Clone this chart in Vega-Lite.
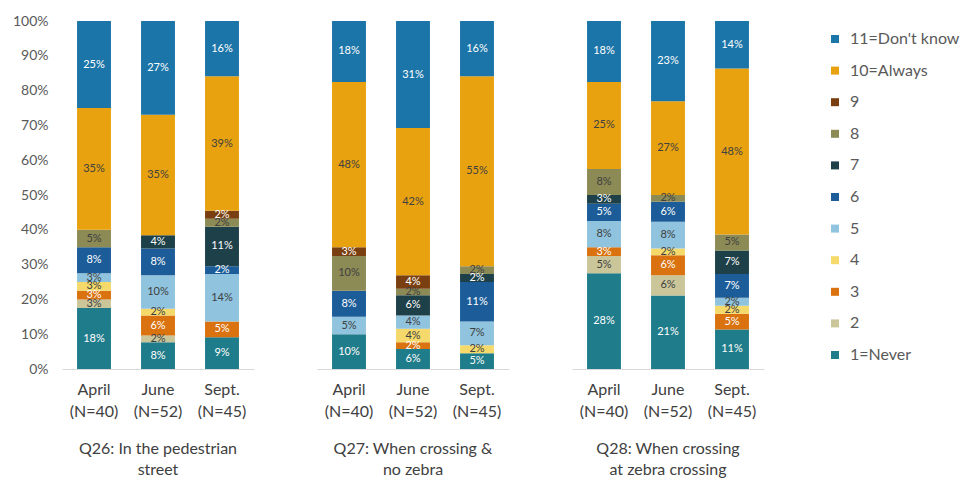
{
  "$schema": "https://vega.github.io/schema/vega-lite/v6.json",
  "background": "white",
  "padding": {"left": 12, "top": 14, "right": 0, "bottom": 0},
  "config": {
    "font": "Lato",
    "view": {"stroke": null},
    "axisX": {"labelAngle": 0, "domainColor": "#d9d9d9", "domainWidth": 1, "ticks": false, "labelFontSize": 16, "labelColor": "#404040", "labelPadding": 12, "labelLineHeight": 22, "labelExpr": "split(datum.label, '|')", "title": null, "grid": false},
    "axisY": {"domain": false, "ticks": false, "grid": false, "labelFontSize": 14, "labelColor": "#595959", "labelPadding": 14, "title": null, "labelOverlap": false},
    "header": {"labelOrient": "bottom", "labelFontSize": 16, "labelColor": "#404040", "labelPadding": 22, "labelLineHeight": 21, "labelExpr": "split(datum.value, '|')", "labelBaseline": "top"}
  },
  "data": {"values": [
    {"q": "Q26: In the pedestrian|street", "month": "April|(N=40)", "code": 1, "cat": "1=Never", "pct": 17.5, "label": "18%"},
    {"q": "Q26: In the pedestrian|street", "month": "April|(N=40)", "code": 2, "cat": "2", "pct": 2.5, "label": "3%"},
    {"q": "Q26: In the pedestrian|street", "month": "April|(N=40)", "code": 3, "cat": "3", "pct": 2.5, "label": "3%"},
    {"q": "Q26: In the pedestrian|street", "month": "April|(N=40)", "code": 4, "cat": "4", "pct": 2.5, "label": "3%"},
    {"q": "Q26: In the pedestrian|street", "month": "April|(N=40)", "code": 5, "cat": "5", "pct": 2.5, "label": "3%"},
    {"q": "Q26: In the pedestrian|street", "month": "April|(N=40)", "code": 6, "cat": "6", "pct": 7.5, "label": "8%"},
    {"q": "Q26: In the pedestrian|street", "month": "April|(N=40)", "code": 8, "cat": "8", "pct": 5, "label": "5%"},
    {"q": "Q26: In the pedestrian|street", "month": "April|(N=40)", "code": 10, "cat": "10=Always", "pct": 35, "label": "35%"},
    {"q": "Q26: In the pedestrian|street", "month": "April|(N=40)", "code": 11, "cat": "11=Don't know", "pct": 25, "label": "25%"},

    {"q": "Q26: In the pedestrian|street", "month": "June|(N=52)", "code": 1, "cat": "1=Never", "pct": 7.69, "label": "8%"},
    {"q": "Q26: In the pedestrian|street", "month": "June|(N=52)", "code": 2, "cat": "2", "pct": 1.92, "label": "2%"},
    {"q": "Q26: In the pedestrian|street", "month": "June|(N=52)", "code": 3, "cat": "3", "pct": 5.77, "label": "6%"},
    {"q": "Q26: In the pedestrian|street", "month": "June|(N=52)", "code": 4, "cat": "4", "pct": 1.92, "label": "2%"},
    {"q": "Q26: In the pedestrian|street", "month": "June|(N=52)", "code": 5, "cat": "5", "pct": 9.62, "label": "10%"},
    {"q": "Q26: In the pedestrian|street", "month": "June|(N=52)", "code": 6, "cat": "6", "pct": 7.69, "label": "8%"},
    {"q": "Q26: In the pedestrian|street", "month": "June|(N=52)", "code": 7, "cat": "7", "pct": 3.85, "label": "4%"},
    {"q": "Q26: In the pedestrian|street", "month": "June|(N=52)", "code": 10, "cat": "10=Always", "pct": 34.62, "label": "35%"},
    {"q": "Q26: In the pedestrian|street", "month": "June|(N=52)", "code": 11, "cat": "11=Don't know", "pct": 26.92, "label": "27%"},

    {"q": "Q26: In the pedestrian|street", "month": "Sept.|(N=45)", "code": 1, "cat": "1=Never", "pct": 9.09, "label": "9%"},
    {"q": "Q26: In the pedestrian|street", "month": "Sept.|(N=45)", "code": 3, "cat": "3", "pct": 4.55, "label": "5%"},
    {"q": "Q26: In the pedestrian|street", "month": "Sept.|(N=45)", "code": 5, "cat": "5", "pct": 13.64, "label": "14%"},
    {"q": "Q26: In the pedestrian|street", "month": "Sept.|(N=45)", "code": 6, "cat": "6", "pct": 2.27, "label": "2%"},
    {"q": "Q26: In the pedestrian|street", "month": "Sept.|(N=45)", "code": 7, "cat": "7", "pct": 11.36, "label": "11%"},
    {"q": "Q26: In the pedestrian|street", "month": "Sept.|(N=45)", "code": 8, "cat": "8", "pct": 2.27, "label": "2%"},
    {"q": "Q26: In the pedestrian|street", "month": "Sept.|(N=45)", "code": 9, "cat": "9", "pct": 2.27, "label": "2%"},
    {"q": "Q26: In the pedestrian|street", "month": "Sept.|(N=45)", "code": 10, "cat": "10=Always", "pct": 38.64, "label": "39%"},
    {"q": "Q26: In the pedestrian|street", "month": "Sept.|(N=45)", "code": 11, "cat": "11=Don't know", "pct": 15.91, "label": "16%"},

    {"q": "Q27: When crossing &|no zebra", "month": "April|(N=40)", "code": 1, "cat": "1=Never", "pct": 10, "label": "10%"},
    {"q": "Q27: When crossing &|no zebra", "month": "April|(N=40)", "code": 5, "cat": "5", "pct": 5, "label": "5%"},
    {"q": "Q27: When crossing &|no zebra", "month": "April|(N=40)", "code": 6, "cat": "6", "pct": 7.5, "label": "8%"},
    {"q": "Q27: When crossing &|no zebra", "month": "April|(N=40)", "code": 8, "cat": "8", "pct": 10, "label": "10%"},
    {"q": "Q27: When crossing &|no zebra", "month": "April|(N=40)", "code": 9, "cat": "9", "pct": 2.5, "label": "3%"},
    {"q": "Q27: When crossing &|no zebra", "month": "April|(N=40)", "code": 10, "cat": "10=Always", "pct": 47.5, "label": "48%"},
    {"q": "Q27: When crossing &|no zebra", "month": "April|(N=40)", "code": 11, "cat": "11=Don't know", "pct": 17.5, "label": "18%"},

    {"q": "Q27: When crossing &|no zebra", "month": "June|(N=52)", "code": 1, "cat": "1=Never", "pct": 5.77, "label": "6%"},
    {"q": "Q27: When crossing &|no zebra", "month": "June|(N=52)", "code": 3, "cat": "3", "pct": 1.92, "label": "2%"},
    {"q": "Q27: When crossing &|no zebra", "month": "June|(N=52)", "code": 4, "cat": "4", "pct": 3.85, "label": "4%"},
    {"q": "Q27: When crossing &|no zebra", "month": "June|(N=52)", "code": 5, "cat": "5", "pct": 3.85, "label": "4%"},
    {"q": "Q27: When crossing &|no zebra", "month": "June|(N=52)", "code": 7, "cat": "7", "pct": 5.77, "label": "6%"},
    {"q": "Q27: When crossing &|no zebra", "month": "June|(N=52)", "code": 8, "cat": "8", "pct": 1.92, "label": "2%"},
    {"q": "Q27: When crossing &|no zebra", "month": "June|(N=52)", "code": 9, "cat": "9", "pct": 3.85, "label": "4%"},
    {"q": "Q27: When crossing &|no zebra", "month": "June|(N=52)", "code": 10, "cat": "10=Always", "pct": 42.31, "label": "42%"},
    {"q": "Q27: When crossing &|no zebra", "month": "June|(N=52)", "code": 11, "cat": "11=Don't know", "pct": 30.77, "label": "31%"},

    {"q": "Q27: When crossing &|no zebra", "month": "Sept.|(N=45)", "code": 1, "cat": "1=Never", "pct": 4.55, "label": "5%"},
    {"q": "Q27: When crossing &|no zebra", "month": "Sept.|(N=45)", "code": 4, "cat": "4", "pct": 2.27, "label": "2%"},
    {"q": "Q27: When crossing &|no zebra", "month": "Sept.|(N=45)", "code": 5, "cat": "5", "pct": 6.82, "label": "7%"},
    {"q": "Q27: When crossing &|no zebra", "month": "Sept.|(N=45)", "code": 6, "cat": "6", "pct": 11.36, "label": "11%"},
    {"q": "Q27: When crossing &|no zebra", "month": "Sept.|(N=45)", "code": 7, "cat": "7", "pct": 2.27, "label": "2%"},
    {"q": "Q27: When crossing &|no zebra", "month": "Sept.|(N=45)", "code": 8, "cat": "8", "pct": 2.27, "label": "2%"},
    {"q": "Q27: When crossing &|no zebra", "month": "Sept.|(N=45)", "code": 10, "cat": "10=Always", "pct": 54.55, "label": "55%"},
    {"q": "Q27: When crossing &|no zebra", "month": "Sept.|(N=45)", "code": 11, "cat": "11=Don't know", "pct": 15.91, "label": "16%"},

    {"q": "Q28: When crossing|at zebra crossing", "month": "April|(N=40)", "code": 1, "cat": "1=Never", "pct": 27.5, "label": "28%"},
    {"q": "Q28: When crossing|at zebra crossing", "month": "April|(N=40)", "code": 2, "cat": "2", "pct": 5, "label": "5%"},
    {"q": "Q28: When crossing|at zebra crossing", "month": "April|(N=40)", "code": 3, "cat": "3", "pct": 2.5, "label": "3%"},
    {"q": "Q28: When crossing|at zebra crossing", "month": "April|(N=40)", "code": 5, "cat": "5", "pct": 7.5, "label": "8%"},
    {"q": "Q28: When crossing|at zebra crossing", "month": "April|(N=40)", "code": 6, "cat": "6", "pct": 5, "label": "5%"},
    {"q": "Q28: When crossing|at zebra crossing", "month": "April|(N=40)", "code": 7, "cat": "7", "pct": 2.5, "label": "3%"},
    {"q": "Q28: When crossing|at zebra crossing", "month": "April|(N=40)", "code": 8, "cat": "8", "pct": 7.5, "label": "8%"},
    {"q": "Q28: When crossing|at zebra crossing", "month": "April|(N=40)", "code": 10, "cat": "10=Always", "pct": 25, "label": "25%"},
    {"q": "Q28: When crossing|at zebra crossing", "month": "April|(N=40)", "code": 11, "cat": "11=Don't know", "pct": 17.5, "label": "18%"},

    {"q": "Q28: When crossing|at zebra crossing", "month": "June|(N=52)", "code": 1, "cat": "1=Never", "pct": 21.15, "label": "21%"},
    {"q": "Q28: When crossing|at zebra crossing", "month": "June|(N=52)", "code": 2, "cat": "2", "pct": 5.77, "label": "6%"},
    {"q": "Q28: When crossing|at zebra crossing", "month": "June|(N=52)", "code": 3, "cat": "3", "pct": 5.77, "label": "6%"},
    {"q": "Q28: When crossing|at zebra crossing", "month": "June|(N=52)", "code": 4, "cat": "4", "pct": 1.92, "label": "2%"},
    {"q": "Q28: When crossing|at zebra crossing", "month": "June|(N=52)", "code": 5, "cat": "5", "pct": 7.69, "label": "8%"},
    {"q": "Q28: When crossing|at zebra crossing", "month": "June|(N=52)", "code": 6, "cat": "6", "pct": 5.77, "label": "6%"},
    {"q": "Q28: When crossing|at zebra crossing", "month": "June|(N=52)", "code": 8, "cat": "8", "pct": 1.92, "label": "2%"},
    {"q": "Q28: When crossing|at zebra crossing", "month": "June|(N=52)", "code": 10, "cat": "10=Always", "pct": 26.92, "label": "27%"},
    {"q": "Q28: When crossing|at zebra crossing", "month": "June|(N=52)", "code": 11, "cat": "11=Don't know", "pct": 23.08, "label": "23%"},

    {"q": "Q28: When crossing|at zebra crossing", "month": "Sept.|(N=45)", "code": 1, "cat": "1=Never", "pct": 11.36, "label": "11%"},
    {"q": "Q28: When crossing|at zebra crossing", "month": "Sept.|(N=45)", "code": 3, "cat": "3", "pct": 4.55, "label": "5%"},
    {"q": "Q28: When crossing|at zebra crossing", "month": "Sept.|(N=45)", "code": 4, "cat": "4", "pct": 2.27, "label": "2%"},
    {"q": "Q28: When crossing|at zebra crossing", "month": "Sept.|(N=45)", "code": 5, "cat": "5", "pct": 2.27, "label": "2%"},
    {"q": "Q28: When crossing|at zebra crossing", "month": "Sept.|(N=45)", "code": 6, "cat": "6", "pct": 6.82, "label": "7%"},
    {"q": "Q28: When crossing|at zebra crossing", "month": "Sept.|(N=45)", "code": 7, "cat": "7", "pct": 6.82, "label": "7%"},
    {"q": "Q28: When crossing|at zebra crossing", "month": "Sept.|(N=45)", "code": 8, "cat": "8", "pct": 4.55, "label": "5%"},
    {"q": "Q28: When crossing|at zebra crossing", "month": "Sept.|(N=45)", "code": 10, "cat": "10=Always", "pct": 47.73, "label": "48%"},
    {"q": "Q28: When crossing|at zebra crossing", "month": "Sept.|(N=45)", "code": 11, "cat": "11=Don't know", "pct": 13.64, "label": "14%"}
  ]},
  "facet": {"column": {"field": "q", "type": "nominal", "title": null}},
  "spacing": 63,
  "spec": {
    "width": 192,
    "height": 348,
    "encoding": {
      "x": {"field": "month", "type": "nominal", "sort": ["April|(N=40)", "June|(N=52)", "Sept.|(N=45)"], "scale": {"paddingInner": 0.47, "paddingOuter": 0.235}},
      "order": {"field": "code", "type": "quantitative", "sort": "ascending"}
    },
    "layer": [
      {
        "mark": {"type": "bar"},
        "encoding": {
          "y": {"field": "pct", "type": "quantitative", "stack": "normalize", "scale": {"domain": [0, 1], "nice": false}, "axis": {"format": ".0%", "values": [0, 0.1, 0.2, 0.3, 0.4, 0.5, 0.6, 0.7, 0.8, 0.9, 1]}},
          "color": {
            "field": "cat", "type": "nominal",
            "scale": {
              "domain": ["11=Don't know", "10=Always", "9", "8", "7", "6", "5", "4", "3", "2", "1=Never"],
              "range": ["#1b75a8", "#e8a20f", "#7a3f10", "#8c8a55", "#1d4049", "#1b5c99", "#8fc3de", "#f5da6b", "#d9720f", "#cbc69a", "#1f7c8a"]
            },
            "legend": {"title": null, "orient": "right", "offset": 53, "padding": 10, "symbolType": "square", "symbolSize": 64, "symbolStrokeWidth": 0, "labelFontSize": 16, "labelColor": "#595959", "rowPadding": 15.6, "labelOffset": 7}
          }
        }
      },
      {
        "mark": {"type": "text", "fontSize": 11, "baseline": "middle"},
        "encoding": {
          "y": {"field": "pct", "type": "quantitative", "stack": "normalize", "bandPosition": 0.5, "axis": {"format": ".0%", "values": [0, 0.1, 0.2, 0.3, 0.4, 0.5, 0.6, 0.7, 0.8, 0.9, 1]}},
          "text": {"field": "label", "type": "nominal"},
          "color": {"condition": {"test": "indexof([1, 3, 6, 7, 9, 11], datum.code) >= 0", "value": "#ffffff"}, "value": "#404040"}
        }
      }
    ]
  }
}
